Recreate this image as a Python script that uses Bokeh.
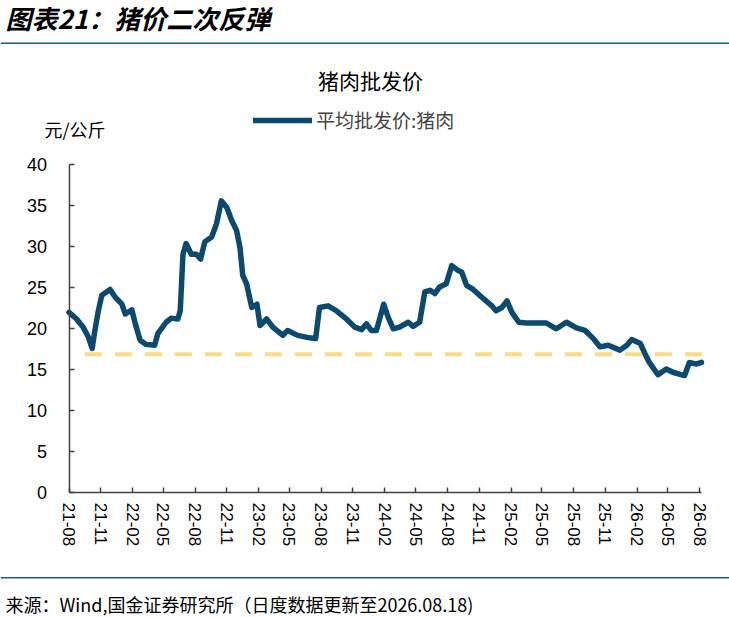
import pandas as pd
from bokeh.plotting import figure
from bokeh.models import (Label, Legend, LegendItem, BoxAnnotation, FixedTicker,
                          DatetimeTickFormatter, Range1d, ColumnDataSource)
from bokeh.embed import file_html
from bokeh.resources import INLINE

# ---------------- data ----------------
dates = ["2021-08-01","2021-08-23","2021-09-11","2021-09-26","2021-10-07","2021-10-15","2021-10-25",
         "2021-11-04","2021-11-28","2021-12-12","2022-01-01","2022-01-11","2022-01-30","2022-02-09",
         "2022-02-23","2022-03-12","2022-04-06","2022-04-15","2022-05-09","2022-05-24","2022-06-12",
         "2022-06-19","2022-06-27","2022-07-06","2022-07-21","2022-08-05","2022-08-17","2022-08-29",
         "2022-09-18","2022-10-02","2022-10-16","2022-11-01","2022-11-15","2022-11-29","2022-12-09",
         "2022-12-17","2022-12-28","2023-01-12","2023-01-27","2023-02-05","2023-02-24","2023-03-14",
         "2023-04-12","2023-04-26","2023-05-25","2023-06-28","2023-07-16","2023-07-27","2023-08-21",
         "2023-09-14","2023-10-13","2023-11-06","2023-11-26","2023-12-10","2023-12-24","2024-01-08",
         "2024-01-29","2024-02-11","2024-02-26","2024-03-15","2024-04-09","2024-04-23","2024-05-12",
         "2024-05-27","2024-06-11","2024-06-25","2024-07-09","2024-07-28","2024-08-13","2024-09-01",
         "2024-09-11","2024-09-25","2024-10-14","2024-11-12","2024-12-07","2024-12-19","2025-01-05",
         "2025-01-20","2025-02-03","2025-02-23","2025-03-17","2025-04-15","2025-05-14","2025-06-12",
         "2025-07-11","2025-08-09","2025-09-03","2025-09-27","2025-10-16","2025-11-09","2025-12-13",
         "2026-01-02","2026-01-16","2026-02-10","2026-02-24","2026-03-08","2026-04-02","2026-04-26",
         "2026-05-15","2026-06-18","2026-07-02","2026-07-22","2026-08-06"]
pork_price = [22.0,21.2,20.2,19.0,17.6,19.8,22.2,24.1,24.8,23.9,23.0,21.8,22.3,20.6,18.6,18.1,18.0,
              19.4,20.8,21.3,21.2,22.2,29.1,30.4,29.1,29.1,28.5,30.6,31.2,32.8,35.6,34.8,33.2,32.0,
              29.9,26.5,25.5,22.6,23.0,20.4,21.2,20.2,19.2,19.8,19.2,18.9,18.8,22.6,22.8,22.2,21.2,
              20.2,19.9,20.6,19.8,19.8,23.0,21.4,20.0,20.2,20.8,20.3,20.8,24.5,24.7,24.3,25.1,25.5,
              27.7,27.1,26.9,25.3,24.8,23.7,22.8,22.2,22.6,23.4,22.0,20.8,20.7,20.7,20.7,20.0,20.8,
              20.1,19.8,18.8,17.8,18.0,17.4,18.0,18.7,18.2,16.9,15.9,14.4,15.1,14.7,14.3,15.9,15.7,15.9]
ref_level = 16.9
ref_start = "2021-09-16"
ref_end = "2026-08-18"
x_tick_labels = ["21-08","21-11","22-02","22-05","22-08","22-11","23-02","23-05","23-08","23-11",
                 "24-02","24-05","24-08","24-11","25-02","25-05","25-08","25-11","26-02","26-05","26-08"]
y_ticks = [0, 5, 10, 15, 20, 25, 30, 35, 40]

series_name = "平均批发价:猪肉"
chart_title = "猪肉批发价"
header = "图表21：猪价二次反弹"
unit_label = "元/公斤"
source_text = "来源：Wind,国金证券研究所（日度数据更新至2026.08.18)"

# ---------------- layout constants (pixels) ----------------
W, H = 729, 617
PX_X0, PX_X1 = 68.5, 701.0      # pixel x of first / last date
PX_Y0, PX_Y40 = 492.3, 164.3    # pixel y of value 0 / 40

x = pd.to_datetime(dates)
t0 = pd.Timestamp(dates[0]).value / 1e6
t1 = pd.Timestamp(dates[-1]).value / 1e6
ms_per_px = (t1 - t0) / (PX_X1 - PX_X0)
x_range = Range1d(t0 - PX_X0 * ms_per_px, t1 + (W - PX_X1) * ms_per_px)
u_per_px = 40.0 / (PX_Y0 - PX_Y40)
y_range = Range1d(-(H - PX_Y0) * u_per_px, 40 + PX_Y40 * u_per_px)

tick_dates = pd.to_datetime(["20" + t + "-01" for t in x_tick_labels])
tick_ms = [t.value / 1e6 for t in tick_dates]

p = figure(width=W, height=H, x_axis_type="datetime", output_backend="svg",
           toolbar_location=None, min_border=0, x_range=x_range, y_range=y_range)
p.outline_line_color = None
p.xgrid.grid_line_color = None
p.ygrid.grid_line_color = None
p.background_fill_color = "white"
p.border_fill_color = "white"

axis_color = "#404040"
for ax in (p.xaxis[0], p.yaxis[0]):
    ax.axis_line_color = axis_color
    ax.axis_line_width = 1.5
    ax.major_tick_line_color = axis_color
    ax.major_tick_line_width = 1.5
    ax.major_tick_in = 5
    ax.major_tick_out = 0
    ax.minor_tick_line_color = None
    ax.major_label_text_color = "black"
    ax.major_label_text_font = "Liberation Sans"

p.yaxis.fixed_location = t0
p.yaxis.bounds = (0, 40)
p.yaxis.ticker = FixedTicker(ticks=y_ticks)
p.yaxis.major_label_text_font_size = "18px"
p.yaxis.major_label_standoff = 22

p.xaxis.fixed_location = 0
p.xaxis.bounds = (t0, t1)
p.xaxis.ticker = FixedTicker(ticks=tick_ms)
fmt = "%y-%m"
p.xaxis.formatter = DatetimeTickFormatter(milliseconds=fmt, seconds=fmt, minsec=fmt, minutes=fmt,
                                          hourmin=fmt, hours=fmt, days=fmt, months=fmt, years=fmt)
p.xaxis.major_label_orientation = "vertical"
p.xaxis.major_label_text_font_size = "17px"
p.xaxis.major_label_standoff = 10

# reference dashed line
p.segment(x0=[pd.Timestamp(ref_start)], y0=[ref_level], x1=[pd.Timestamp(ref_end)], y1=[ref_level],
          line_color="#F7DC88", line_width=4, line_dash="17 13")

src = ColumnDataSource(dict(x=x, y=pork_price))
r = p.line("x", "y", source=src, line_color="#0B4A6E", line_width=5.5,
           line_join="round", line_cap="round")

legend = Legend(items=[LegendItem(label=series_name, renderers=[r])], location=(253, H - 133),
                glyph_width=59, glyph_height=20, label_height=20,
                label_text_font_size="19px", label_text_font="Noto Sans CJK SC",
                label_standoff=4, border_line_color=None, background_fill_alpha=0,
                padding=0, margin=0)
p.add_layout(legend)

# texts (screen units: frame == whole canvas, y measured upwards)
cjk = "Noto Sans CJK SC"
p.add_layout(Label(x=5, y=H - 17, x_units="screen", y_units="screen", text=header,
                   text_font=cjk, text_font_size="26px", text_font_style="bold italic",
                   text_baseline="middle", text_color="black"))
p.add_layout(Label(x=370, y=H - 79, x_units="screen", y_units="screen", text=chart_title,
                   text_font=cjk, text_font_size="21px", text_align="center",
                   text_baseline="middle", text_color="black"))
p.add_layout(Label(x=44, y=H - 128, x_units="screen", y_units="screen", text=unit_label,
                   text_font=cjk, text_font_size="18px",
                   text_baseline="middle", text_color="black"))
p.add_layout(Label(x=5, y=H - 603, x_units="screen", y_units="screen", text=source_text,
                   text_font=cjk, text_font_size="18px",
                   text_baseline="middle", text_color="black"))

rule_color = "#1C5C7C"
p.add_layout(BoxAnnotation(left=0, right=W, bottom=H - 43.5, top=H - 42,
                           left_units="screen", right_units="screen",
                           bottom_units="screen", top_units="screen",
                           fill_color=rule_color, fill_alpha=1, line_color=None))
p.add_layout(BoxAnnotation(left=0, right=W, bottom=H - 578, top=H - 576.5,
                           left_units="screen", right_units="screen",
                           bottom_units="screen", top_units="screen",
                           fill_color=rule_color, fill_alpha=1, line_color=None))

open("out.html", "w").write(file_html(p, INLINE))
